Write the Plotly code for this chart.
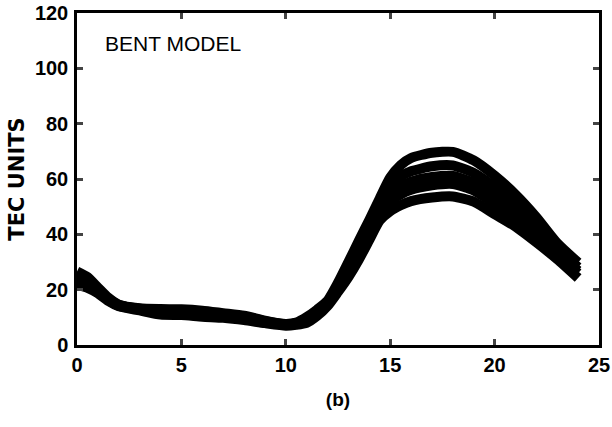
import plotly.graph_objects as go

# Local time (hours)
hours = [0, 0.5, 1, 1.5, 2, 3, 4, 5, 6, 7, 8, 9, 10, 10.5, 11, 11.5, 12, 12.5,
         13, 13.5, 14, 14.5, 15, 15.5, 16, 17, 18, 19, 20, 21, 22, 23, 24]

# TEC values for the five model curves (top to bottom at the daytime peak)
tec_a = [26.6, 24.6, 20.8, 17.1, 14.6, 13.3, 13.0, 12.9, 12.4, 11.5, 10.6, 8.8, 7.6, 8.1,
         10.1, 12.8, 16.0, 22.5, 30.0, 37.7, 45.2, 53.0, 60.5, 65.0, 67.6, 69.5, 69.8,
         66.7, 61.2, 54.4, 46.2, 36.8, 29.8]
tec_b = [25.1, 23.4, 20.1, 16.8, 14.5, 13.1, 12.5, 12.3, 11.8, 11.1, 10.2, 8.6, 7.5, 7.9,
         9.5, 12.2, 15.4, 21.6, 28.1, 35.7, 43.1, 50.6, 57.0, 60.9, 62.8, 64.6, 64.9,
         62.2, 57.1, 51.0, 43.5, 35.0, 28.1]
tec_c = [24.0, 22.5, 19.7, 16.5, 14.3, 12.9, 12.0, 11.9, 11.3, 10.7, 9.8, 8.4, 7.4, 7.8,
         9.0, 11.7, 15.0, 20.8, 26.8, 33.9, 41.3, 48.6, 54.0, 57.2, 59.0, 60.7, 61.1,
         58.6, 53.7, 48.2, 41.3, 33.6, 26.8]
tec_d = [23.1, 21.8, 19.4, 16.2, 14.2, 12.8, 11.7, 11.5, 10.9, 10.4, 9.6, 8.3, 7.3, 7.7,
         8.6, 11.3, 14.6, 20.2, 25.8, 32.6, 39.9, 47.2, 51.7, 54.4, 56.1, 57.7, 58.2,
         55.9, 51.1, 46.0, 39.6, 32.6, 25.9]
tec_e = [21.7, 20.7, 18.7, 15.9, 14.0, 12.5, 11.0, 10.8, 10.2, 9.8, 9.0, 7.9, 7.0, 7.3,
         8.0, 10.5, 14.1, 19.2, 24.6, 30.9, 38.0, 45.0, 48.4, 50.5, 52.0, 53.3, 53.7,
         51.8, 47.3, 42.8, 37.1, 31.0, 24.2]

x_ticks = [0, 5, 10, 15, 20, 25]
y_ticks = [0, 20, 40, 60, 80, 100, 120]

fig = go.Figure()
for series in [tec_a, tec_b, tec_c, tec_d, tec_e]:
    fig.add_trace(go.Scatter(
        x=hours, y=series, mode="lines",
        line=dict(color="black", width=10, shape="spline", smoothing=0.6),
        showlegend=False, hoverinfo="skip"))

font_family = "Liberation Sans, Arial, sans-serif"
fig.update_layout(
    width=612, height=427,
    margin=dict(l=77, r=13, t=13, b=82),
    paper_bgcolor="white", plot_bgcolor="white",
    font=dict(family=font_family, color="black", size=20),
    xaxis=dict(range=[0, 25], tickvals=x_ticks, ticks="inside", ticklen=6, tickwidth=2.5,
               showline=True, linewidth=2.5, linecolor="black", mirror="ticks",
               showgrid=False, zeroline=False, automargin=False,
               tickfont=dict(size=20, weight="bold"),
               title=dict(text="(b)", font=dict(size=19, weight="bold"), standoff=18)),
    yaxis=dict(range=[0, 120], tickvals=y_ticks, ticks="inside", ticklen=6, tickwidth=2.5,
               showline=True, linewidth=2.5, linecolor="black", mirror="ticks",
               showgrid=False, zeroline=False, automargin=False,
               ticklabelstandoff=2,
               tickfont=dict(size=20, weight="bold"),
               title=dict(text="TEC UNITS",
                          font=dict(family="DejaVu Sans, sans-serif", size=21, weight="bold"),
                          standoff=5)),
    annotations=[dict(text="BENT MODEL", x=1.25, y=109, xref="x", yref="y",
                      xanchor="left", yanchor="middle", showarrow=False,
                      font=dict(size=21, color="black"))],
)

# remove the browser's default page margin so the figure fills the window exactly
fig.write_html("out.html", config={"displayModeBar": False},
               post_script="document.body.style.margin='0px';")
